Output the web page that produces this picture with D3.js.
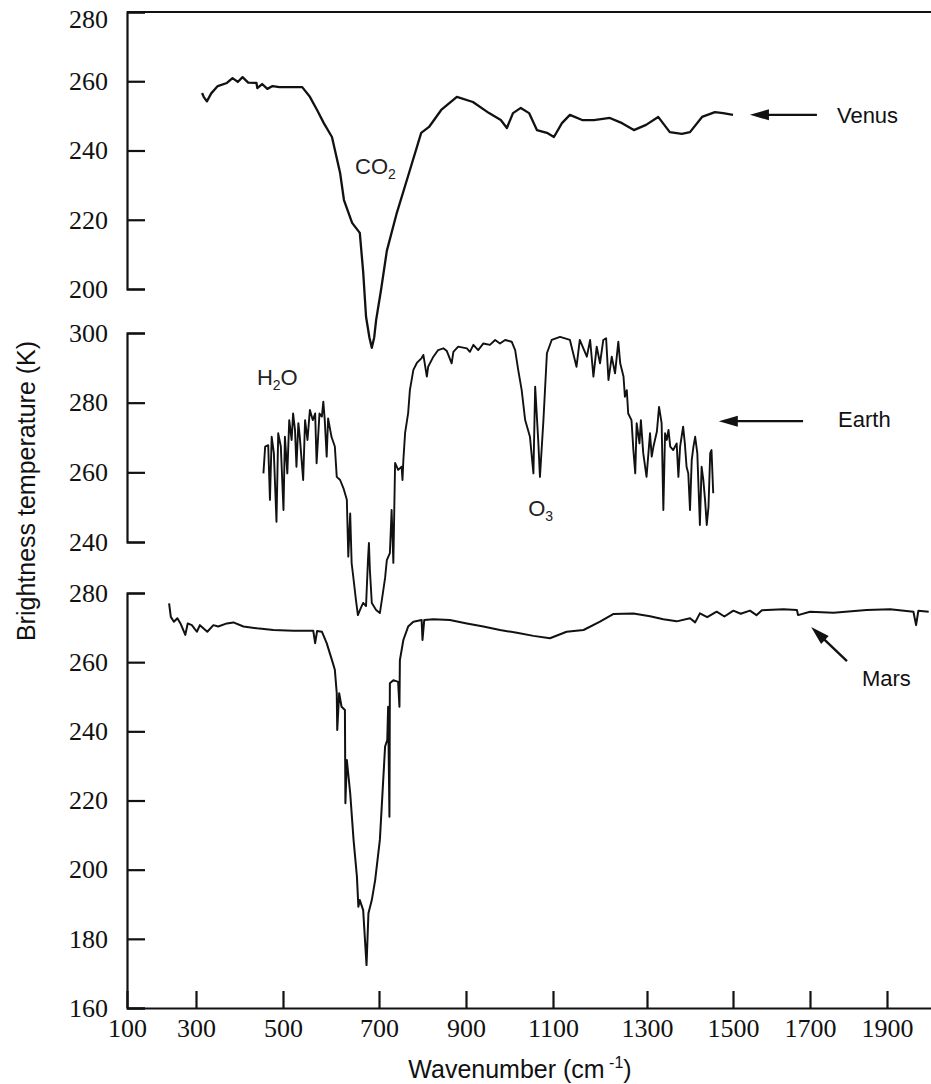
<!DOCTYPE html>
<html>
<head>
<meta charset="utf-8">
<script src="https://cdn.jsdelivr.net/npm/d3@7"></script>
<style>
  html, body { margin: 0; padding: 0; background: #fff; }
  svg { display: block; }
</style>
</head>
<body>
<div id="chart"></div>
<script>
// tick values
const xTicks = [100, 300, 500, 700, 900, 1100, 1300, 1500, 1700, 1900];
const venusTicks = [200, 220, 240, 260, 280];
const earthTicks = [240, 260, 280, 300];
const marsTicks = [160, 180, 200, 220, 240, 260, 280];

// spectra: [wavenumber (cm-1), brightness temperature (K)]
const venus = [
  [314,256.6],[318,255.4],[325,254.2],[335,256.5],[350,258.6],[371,259.5],[384,260.9],
  [396,259.8],[407,261.2],[420,259.6],[439,259.5],[441,258.0],[452,259.2],[464,257.8],
  [476,258.6],[492,258.3],[540,258.3],[556,255.5],[571,251.7],[585,247.9],[602,243.9],
  [619,233.5],[627,225.7],[644,219.1],[660,216.2],[667,205],[673,192],[680,186],[685,183],
  [690,186],[694,191],[705,200],[718,211],[741,222],[769,233.5],[797,245.1],[815,246.8],
  [843,251.7],[879,255.5],[916,254.0],[953,250.8],[980,248.8],[994,246.5],[1008,250.8],
  [1026,252.3],[1045,250.8],[1063,245.9],[1086,245.1],[1102,243.9],[1119,247.9],[1136,250.3],
  [1162,248.8],[1187,248.8],[1221,249.4],[1247,247.9],[1272,245.9],[1298,247.4],[1326,249.7],
  [1353,245.3],[1381,244.8],[1400,245.3],[1428,249.7],[1458,251.1],[1477,250.8],[1500,250.3]
];

const earth = [
  [455,259.7],[459,267.4],[466,267.8],[470,252.1],[474,270.2],[479,265.5],[485,245.8],
  [489,271.2],[495,267.4],[501,249.2],[504,270.2],[509,259.7],[513,275.0],[518,269.3],
  [521,276.9],[525,272.2],[528,261.6],[532,274.1],[535,270.2],[542,257.8],[546,275.0],
  [551,269.3],[556,277.9],[562,275.0],[567,276.9],[570,262.6],[576,276.9],[581,276.0],
  [584,280.3],[587,275.0],[591,264.5],[594,275.5],[601,270.2],[608,267.4],[612,258.7],
  [619,257.8],[626,255.4],[633,252.1],[636,235.8],[640,248.2],[643,233.9],[646,230.5],
  [652,223.3],[656,219.0],[662,221.0],[667,222.5],[673,221.6],[677,234.8],[679,239.7],
  [681,232.0],[685,222.5],[694,220.5],[702,219.6],[709,225.4],[714,229.7],[718,234.8],
  [725,236.8],[729,249.2],[733,234.0],[737,262.7],[744,260.7],[752,261.6],[754,257.8],
  [756,263.5],[760,271.3],[767,277.0],[771,283.6],[779,289.4],[787,291.4],[798,292.8],
  [802,293.7],[810,287.5],[813,290.3],[825,293.2],[836,295.1],[848,295.6],[856,294.8],
  [867,291.3],[871,294.6],[882,296.1],[902,295.6],[909,294.6],[917,296.6],[928,295.1],
  [940,297.0],[955,296.6],[967,298.0],[978,297.0],[990,298.0],[1005,297.5],[1013,295.1],
  [1020,289.4],[1028,283.6],[1036,275.0],[1047,270.2],[1055,259.7],[1059,284.6],[1066,269.3],
  [1070,258.7],[1078,275.0],[1086,294.2],[1097,298.0],[1115,298.9],[1136,298.0],[1150,290.3],
  [1157,298.0],[1172,293.2],[1179,298.0],[1186,287.5],[1193,296.1],[1200,291.3],[1207,298.0],
  [1213,298.5],[1218,286.5],[1225,293.2],[1232,288.4],[1239,297.5],[1243,291.3],[1250,287.5],
  [1253,281.7],[1257,283.6],[1260,276.9],[1267,275.0],[1271,266.4],[1275,259.7],[1278,274.1],
  [1284,268.3],[1287,275.0],[1292,265.5],[1299,258.7],[1307,271.2],[1311,264.5],[1315,267.4],
  [1323,271.7],[1328,278.8],[1334,274.1],[1338,249.2],[1342,271.2],[1346,269.3],[1350,272.2],
  [1354,267.4],[1361,266.4],[1369,268.3],[1373,258.7],[1377,267.4],[1384,273.1],[1388,268.3],
  [1392,261.6],[1396,259.7],[1400,249.2],[1404,263.5],[1408,267.4],[1412,270.2],[1417,265.5],
  [1423,244.9],[1427,261.6],[1431,257.8],[1435,252.1],[1439,244.9],[1443,250.1],[1447,265.5],
  [1450,266.4],[1454,254.0]
];

const mars = [
  [222,277.0],[227,273.1],[236,271.7],[246,272.7],[255,271.2],[269,267.9],[276,271.2],
  [288,270.7],[302,268.8],[309,270.7],[326,268.8],[340,270.7],[351,270.3],[371,271.2],
  [386,271.5],[409,270.3],[440,269.8],[478,269.3],[522,269.1],[563,269.1],[567,265.5],
  [571,269.0],[581,268.8],[591,265.5],[602,260.6],[608,257.8],[612,251.0],[613,240.4],
  [617,251.0],[622,247.1],[629,246.2],[630,219.2],[633,231.7],[640,222.1],[647,208.6],
  [654,198.0],[657,189.3],[660,191.2],[667,188.3],[674,172.4],[678,187.4],[685,191.2],
  [692,197.0],[702,208.6],[714,235.6],[719,237.5],[721,247.1],[724,215.3],[725,253.9],
  [733,254.8],[744,254.3],[747,247.1],[748,260.6],[756,266.4],[767,270.3],[779,271.7],
  [798,272.2],[800,266.4],[804,272.2],[825,272.4],[863,272.2],[902,271.2],[940,270.3],
  [978,269.3],[1017,268.5],[1055,267.6],[1093,266.9],[1129,268.8],[1165,269.3],[1200,271.7],
  [1228,273.9],[1271,274.1],[1307,273.3],[1338,272.4],[1369,271.8],[1400,272.7],[1412,271.5],
  [1423,274.1],[1440,273.0],[1462,274.6],[1480,273.2],[1501,274.9],[1520,274.0],[1544,274.9],
  [1561,273.6],[1575,275.0],[1588,275.1],[1631,275.3],[1666,275.1],[1669,273.6],[1700,274.6],
  [1761,274.3],[1847,275.1],[1908,275.3],[1969,274.6],[1976,270.7],[1982,274.9],[2009,274.6]
];

// annotation anchors in data space: [wavenumber, temperature]
const planetLabels = [
  { name: 'Venus', panel: 'venus', text: [1770, 248.0], tip: [1544, 250.3], tail: [1718, 250.3] },
  { name: 'Earth', panel: 'earth', text: [1773, 273.0], tip: [1467, 274.7], tail: [1682, 274.7] },
  { name: 'Mars',  panel: 'mars',  text: [1835, 253.1], tip: [1703, 270.2], tail: [1796, 260.3] }
];
const gasLabels = [
  { base: 'CO', sub: '2', after: '', panel: 'venus', at: [650, 233.2] },
  { base: 'H',  sub: '2', after: 'O', panel: 'earth', at: [440, 285.1] },
  { base: 'O',  sub: '3', after: '', panel: 'earth', at: [1043, 247.5] }
];

const width = 931, height = 1084;

const svg = d3.select('#chart').append('svg')
    .attr('width', width).attr('height', height);

// the scanned axis is not evenly spaced, so the x scale is piecewise
const x = d3.scaleLinear()
    .domain([100, 300, 500, 700, 900, 1100, 1300, 1500, 1700, 1900, 2015])
    .range([127, 196, 283, 379, 466, 553, 647, 733, 810, 887, 931]);

const y = {
    venus: d3.scaleLinear().domain([200, 280]).range([289, 12]),
    earth: d3.scaleLinear().domain([240, 300]).range([542, 333]),
    mars:  d3.scaleLinear().domain([160, 280]).range([1008, 593])
};

const tickFont = '"Liberation Serif", "Times New Roman", serif';
const sansFont = '"Liberation Sans", Arial, Helvetica, sans-serif';

function styleAxis(g) {
    g.selectAll('path, line').attr('stroke', '#111').attr('stroke-width', 2.2);
    g.selectAll('text').attr('font-family', tickFont).attr('font-size', 26).attr('fill', '#111');
}

// left axes, ticks pointing inward
[['venus', venusTicks], ['earth', earthTicks], ['mars', marsTicks]].forEach(function (d) {
    const g = svg.append('g')
        .attr('transform', 'translate(127,0)')
        .call(d3.axisLeft(y[d[0]]).tickValues(d[1]).tickSizeInner(-18).tickSizeOuter(-18).tickPadding(19))
        .call(styleAxis);
    // the top label sits a little below the frame line
    if (d[0] === 'venus') {
        g.selectAll('.tick').filter(function (v) { return v === 280; })
            .select('text').attr('dy', '0.6em');
    }
});

// bottom axis
svg.append('g')
    .attr('transform', 'translate(0,' + y.mars(160) + ')')
    .call(d3.axisBottom(x).tickValues(xTicks).tickSizeInner(-17).tickSizeOuter(0).tickPadding(11).tickFormat(d3.format('d')))
    .call(styleAxis);

// top frame line
svg.append('line')
    .attr('x1', x(100)).attr('x2', x(2015))
    .attr('y1', y.venus(280)).attr('y2', y.venus(280))
    .attr('stroke', '#111').attr('stroke-width', 2.2);

// spectra
[['venus', venus, 2.3], ['earth', earth, 1.9], ['mars', mars, 2.0]].forEach(function (d) {
    const line = d3.line()
        .x(function (p) { return x(p[0]); })
        .y(function (p) { return y[d[0]](p[1]); });
    svg.append('path')
        .datum(d[1])
        .attr('d', line)
        .attr('fill', 'none')
        .attr('stroke', '#111')
        .attr('stroke-width', d[2])
        .attr('stroke-linejoin', 'round');
});

// planet labels with arrows
planetLabels.forEach(function (a) {
    const ys = y[a.panel];
    const tx = x(a.tip[0]), ty = ys(a.tip[1]);
    const sx = x(a.tail[0]), sy = ys(a.tail[1]);
    const len = Math.hypot(tx - sx, ty - sy);
    const ux = (tx - sx) / len, uy = (ty - sy) / len;
    const hl = 19, hw = 5.5;
    svg.append('line')
        .attr('x1', sx).attr('y1', sy)
        .attr('x2', tx - ux * 10).attr('y2', ty - uy * 10)
        .attr('stroke', '#111').attr('stroke-width', 2.4);
    svg.append('path')
        .attr('d', 'M' + tx + ',' + ty +
            'L' + (tx - ux * hl - uy * hw) + ',' + (ty - uy * hl + ux * hw) +
            'L' + (tx - ux * hl + uy * hw) + ',' + (ty - uy * hl - ux * hw) + 'Z')
        .attr('fill', '#111');
    svg.append('text')
        .attr('x', x(a.text[0])).attr('y', ys(a.text[1]))
        .attr('font-family', sansFont).attr('font-size', 22).attr('fill', '#111')
        .text(a.name);
});

// gas labels with subscripts
gasLabels.forEach(function (g) {
    const t = svg.append('text')
        .attr('x', x(g.at[0])).attr('y', y[g.panel](g.at[1]))
        .attr('font-family', sansFont).attr('font-size', 22).attr('fill', '#222');
    t.append('tspan').text(g.base);
    t.append('tspan').attr('font-size', 14).attr('dy', 5).text(g.sub);
    if (g.after) t.append('tspan').attr('dy', -5).text(g.after);
});

// axis titles
svg.append('text')
    .attr('transform', 'translate(35,491) rotate(-90)')
    .attr('text-anchor', 'middle')
    .attr('font-family', sansFont).attr('font-size', 25).attr('fill', '#111')
    .text('Brightness temperature (K)');

const xt = svg.append('text')
    .attr('x', 520).attr('y', 1078)
    .attr('text-anchor', 'middle')
    .attr('font-family', sansFont).attr('font-size', 25).attr('fill', '#111');
xt.append('tspan').text('Wavenumber (cm');
xt.append('tspan').attr('font-size', 16).attr('dy', -10).text(' -1');
xt.append('tspan').attr('dy', 10).text(')');
</script>
</body>
</html>
